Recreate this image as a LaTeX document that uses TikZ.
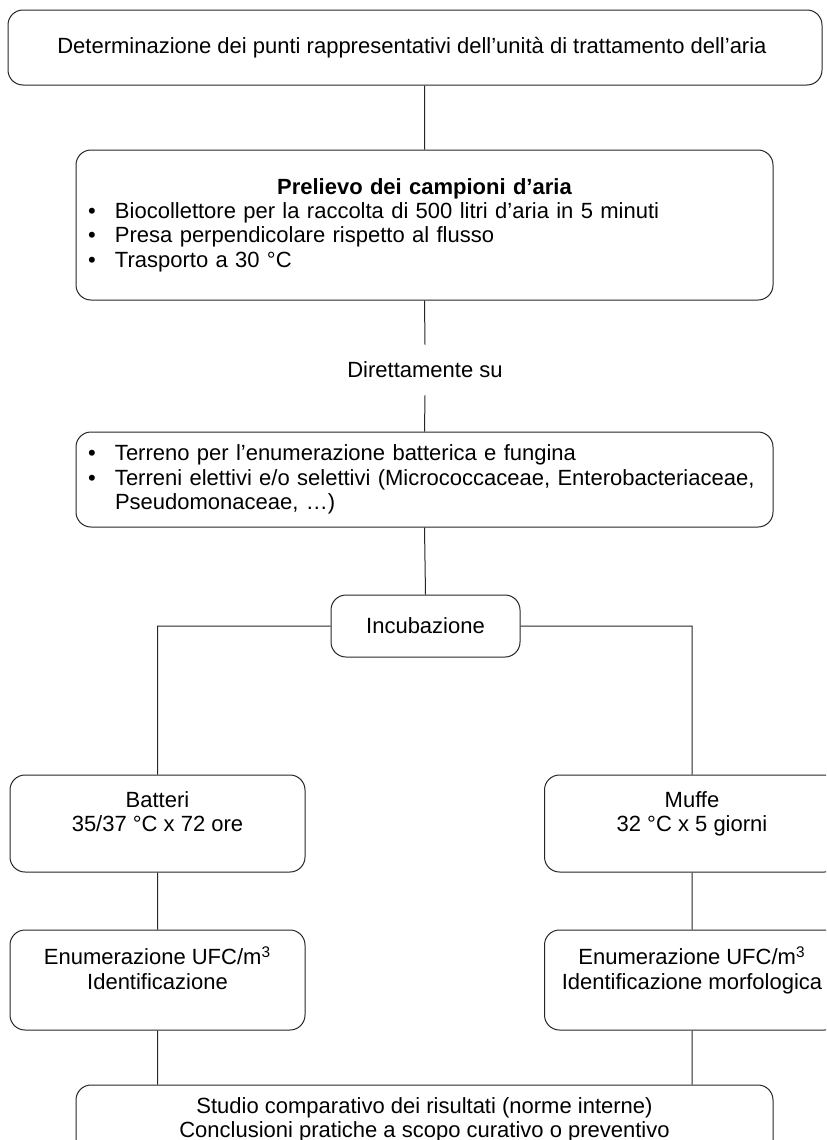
\documentclass[tikz,border=0pt]{standalone}
\usepackage{fontspec}
\setmainfont{Liberation Sans}
\usetikzlibrary{positioning}
\colorlet{anthracite}{black!85}
\tikzstyle{stage} = [%
	rectangle,
	draw=anthracite,
	line width=0.5pt,
	rounded corners=7.5pt,
	align=center,
	inner sep=0pt
]
\tikzstyle{wide stage} = [%
	stage,
	minimum width=348.5pt
]
\tikzstyle{side stage} = [%
	stage,
	minimum width=147.5pt
]
\tikzstyle{plain} = [%
	rectangle,
	draw=none,
	align=center,
	inner sep=0pt
]
\tikzstyle{link} = [%
	draw=anthracite,
	line width=0.5pt
]
\newcommand{\blt}{\makebox[13.5pt][l]{\textbullet}}

\begin{document}
\begin{tikzpicture}[x=0.5pt, y=-0.5pt, font=\fontsize{11}{12.2}\selectfont]

\useasboundingbox (0,0) rectangle (826,1140);
\clip (0,0) rectangle (826,1140);

% sampling steps
\node[stage, minimum width=407pt, minimum height=37.5pt] (punti) at (415,47.5) {%
	Determinazione dei punti rappresentativi dell’unità di trattamento dell’aria
};
\node[wide stage, minimum height=75pt, text width=336.5pt, align=left] (prelievo) at (424.5,225) {%
	\makebox[\linewidth]{\textbf{Prelievo dei campioni d’aria}}\\
	\blt Biocollettore per la raccolta di 500 litri d’aria in 5 minuti\\
	\blt Presa perpendicolare rispetto al flusso\\
	\blt Trasporto a 30 °C\\[10pt]
};
\node[plain, minimum height=25pt] (diretto) at (425,370) {Direttamente su};
\node[wide stage, minimum height=47.5pt, text width=336.5pt, align=left] (terreni) at (424.5,479.5) {%
	\blt Terreno per l’enumerazione batterica e fungina\\
	\blt Terreni elettivi e/o selettivi (Micrococcaceae, Enterobacteriaceae,\\
	\hspace*{13.5pt}Pseudomonaceae, …)
};
\node[stage, minimum width=94.5pt, minimum height=31pt] (incub) at (425.5,626) {Incubazione};

% two branches
\node[side stage, minimum height=48.5pt] (batteri) at (157.5,823.5) {%
	Batteri\\35/37 °C x 72 ore\\[0pt]
};
\node[side stage, minimum height=48.5pt] (muffe) at (692,823.5) {%
	Muffe\\32 °C x 5 giorni\\[0pt]
};
\node[side stage, minimum height=50pt] (enumb) at (157.5,980) {%
	Enumerazione UFC/m\textsuperscript{3}\\Identificazione\\[0pt]
};
\node[side stage, minimum height=50pt] (enumm) at (692,980) {%
	Enumerazione UFC/m\textsuperscript{3}\\Identificazione morfologica\\[0pt]
};

% final step
\node[wide stage, minimum height=35pt] (studio) at (424.5,1120) {%
	Studio comparativo dei risultati (norme interne)\\
	Conclusioni pratiche a scopo curativo o preventivo
};

% connectors
\path[link] (prelievo.north|-punti.south) -- (prelievo.north)
	(prelievo.south) -- (diretto.north)
	(diretto.south) -- (terreni.north)
	(terreni.south) -- (incub.north)
	(incub.west) -| (batteri.north)
	(incub.east) -| (muffe.north)
	(batteri.south) -- (enumb.north)
	(muffe.south) -- (enumm.north)
	(enumb.south) -- (studio.north-|enumb.south)
	(enumm.south) -- (studio.north-|enumm.south);

\end{tikzpicture}
\end{document}
